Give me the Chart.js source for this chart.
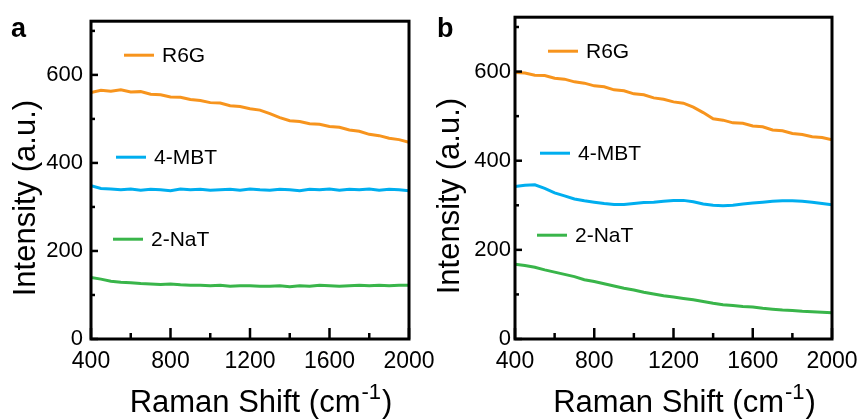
<!DOCTYPE html>
<html>
<head>
<meta charset="utf-8">
<script src="https://cdn.jsdelivr.net/npm/chart.js@4"></script>
<style>
  body { margin: 0; background: #fff; overflow: hidden; }
  #wrap { position: relative; width: 859px; height: 419px; overflow: hidden; }
  canvas { position: absolute; top: 0; }
</style>
</head>
<body>
<div id="wrap">
  <canvas id="panel-a" width="450" height="419" style="left:0"></canvas>
  <canvas id="panel-b" width="450" height="419" style="left:430px"></canvas>
</div>
<script>
// raman shift, cm-1
const shift = [400, 450, 500, 550, 600, 650, 700, 750, 800, 850, 900, 950, 1000, 1050, 1100, 1150,
    1200, 1250, 1300, 1350, 1400, 1450, 1500, 1550, 1600, 1650, 1700, 1750, 1800, 1850, 1900, 1950, 2000];

const seriesNames = ["R6G", "4-MBT", "2-NaT"];

// panel a
const r6gA = [560, 565, 563, 566, 561, 562, 556, 555, 550, 549, 544, 542, 537, 536, 530, 528,
    523, 520, 512, 503, 496, 494, 489, 488, 483, 481, 475, 472, 465, 462, 456, 453, 447];
const mbtA = [348, 342, 341, 339, 341, 338, 340, 339, 337, 341, 339, 340, 338, 339, 340, 338,
    341, 339, 338, 340, 339, 337, 340, 339, 341, 338, 340, 339, 341, 338, 340, 339, 337];
const natA = [140, 136, 131, 129, 128, 126, 125, 124, 125, 123, 122, 122, 121, 122, 120, 121,
    121, 120, 120, 121, 119, 121, 120, 122, 121, 120, 121, 122, 121, 122, 121, 122, 122];

// panel b
const r6gB = [598, 597, 592, 591, 585, 583, 577, 574, 568, 566, 559, 557, 550, 548, 541, 538,
    532, 529, 520, 508, 494, 491, 485, 484, 478, 476, 469, 467, 461, 459, 454, 452, 447];
const mbtB = [342, 345, 346, 338, 328, 321, 314, 310, 307, 304, 302, 302, 304, 306, 307, 309,
    311, 311, 308, 303, 300, 299, 300, 303, 305, 307, 309, 310, 310, 309, 307, 304, 301];
const natB = [168, 165, 161, 155, 150, 145, 140, 133, 129, 124, 119, 114, 110, 105, 101, 97,
    94, 91, 88, 84, 80, 77, 75, 73, 72, 69, 67, 65, 64, 62, 61, 60, 59];

const colors = ['#F7941D', '#00AEEF', '#39B54A'];
const legendY = [34, 136, 218];   // px below chart top
const FONT = "'Liberation Sans', Arial, sans-serif";

function line(ctx, x1, y1, x2, y2) {
    ctx.beginPath();
    ctx.moveTo(x1, y1);
    ctx.lineTo(x2, y2);
    ctx.stroke();
}

const frame = {
    id: 'frame',
    afterDraw(chart, args, opts) {
        const ctx = chart.ctx;
        const a = chart.chartArea;
        const x = chart.scales.x;
        const y = chart.scales.y;
        ctx.save();
        ctx.strokeStyle = '#000';
        ctx.lineWidth = 2.5;

        // inward ticks, bottom and left
        for (let v = 400; v <= 2000; v += 200) {
            const px = x.getPixelForValue(v);
            const len = (v - 400) % 400 === 0 ? 11 : 6;
            line(ctx, px, a.bottom, px, a.bottom - len);
        }
        for (let v = 0; v <= 700; v += 100) {
            const py = y.getPixelForValue(v);
            const len = v % 200 === 0 ? 7 : 4;
            line(ctx, a.left, py, a.left + len, py);
        }
        ctx.lineWidth = 3;
        ctx.strokeRect(a.left, a.top, a.right - a.left, a.bottom - a.top);

        // legend, one entry per series
        ctx.font = '21px ' + FONT;
        ctx.textBaseline = 'middle';
        ctx.fillStyle = '#000';
        const starts = [33, 25, 22];
        seriesNames.forEach((name, i) => {
            const ly = a.top + legendY[i];
            const lx = a.left + starts[i];
            ctx.strokeStyle = colors[i];
            ctx.lineWidth = 3;
            line(ctx, lx, ly, lx + 30, ly);
            ctx.fillText(name, lx + 38, ly + 1);
        });

        // y title
        ctx.save();
        ctx.translate(a.left - 56, (a.top + a.bottom) / 2 + 18);
        ctx.rotate(-Math.PI / 2);
        ctx.font = '31px ' + FONT;
        ctx.textAlign = 'center';
        ctx.textBaseline = 'alphabetic';
        ctx.fillText('Intensity (a.u.)', 0, 0);
        ctx.restore();

        // x title with superscript
        ctx.textBaseline = 'alphabetic';
        ctx.textAlign = 'left';
        const main = 'Raman Shift (cm';
        ctx.font = '31px ' + FONT;
        const w1 = ctx.measureText(main).width;
        const w3 = ctx.measureText(')').width;
        ctx.font = '22px ' + FONT;
        const w2 = ctx.measureText('-1').width;
        let tx = (a.left + a.right) / 2 + 10 - (w1 + w2 + w3) / 2;
        const base = a.bottom + 73;
        ctx.font = '31px ' + FONT;
        ctx.fillText(main, tx, base);
        ctx.font = '22px ' + FONT;
        ctx.fillText('-1', tx + w1 + 1, base - 13);
        ctx.font = '31px ' + FONT;
        ctx.fillText(')', tx + w1 + w2 + 2, base);

        // panel letter
        ctx.font = 'bold 27px ' + FONT;
        ctx.fillText(opts.letter, opts.letterX, 37);
        ctx.restore();
    }
};

function makePanel(id, data, letter, axisWidth, padRight, yPad, letterX) {
    return new Chart(document.getElementById(id), {
        type: 'line',
        data: {
            labels: shift,
            datasets: seriesNames.map((name, i) => ({
                label: name,
                data: data[i].map((v, k) => ({ x: shift[k], y: v })),
                borderColor: colors[i],
                borderWidth: 3,
                pointRadius: 0,
                tension: 0
            }))
        },
        options: {
            responsive: false,
            animation: false,
            layout: { padding: { top: 14, right: padRight, left: 0, bottom: 0 } },
            scales: {
                x: {
                    type: 'linear',
                    min: 400,
                    max: 2000,
                    grid: { display: false, drawTicks: false },
                    border: { display: false },
                    ticks: {
                        stepSize: 400, padding: 9, color: '#000',
                        font: { size: 23, family: FONT },
                        callback: (v) => String(v)
                    },
                    afterFit(scale) { scale.height = 80; }
                },
                y: {
                    min: 0,
                    max: 722,
                    grid: { display: false, drawTicks: false },
                    border: { display: false },
                    ticks: {
                        stepSize: 200, includeBounds: false, padding: yPad, color: '#000',
                        font: { size: 22, family: FONT },
                        callback: (v) => String(v)
                    },
                    afterFit(scale) { scale.width = axisWidth; }
                }
            },
            plugins: {
                legend: { display: false },
                tooltip: { enabled: false },
                frame: { letter: letter, letterX: letterX }
            }
        },
        plugins: [frame]
    });
}

makePanel('panel-a', [r6gA, mbtA, natA], 'a', 91, 41, 8, 11);
makePanel('panel-b', [r6gB, mbtB, natB], 'b', 85, 48, 4, 7);
</script>
</body>
</html>
